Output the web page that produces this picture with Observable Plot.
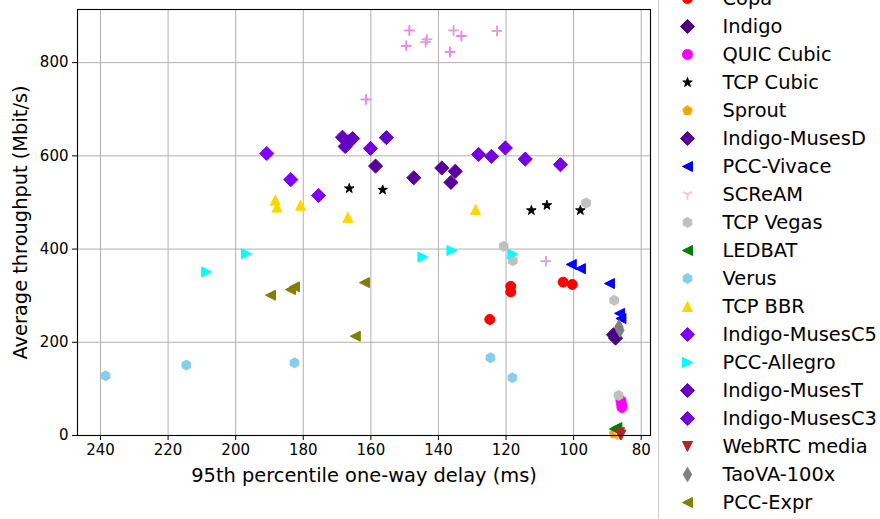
<!DOCTYPE html>
<html>
<head>
<meta charset="utf-8">
<script src="https://cdn.jsdelivr.net/npm/d3@7"></script>
<script src="https://cdn.jsdelivr.net/npm/@observablehq/plot@0.6"></script>
<style>
  html, body { margin: 0; padding: 0; background: #fff; overflow: hidden; }
  #wrap { position: relative; width: 880px; height: 519px; overflow: hidden; font-family: "DejaVu Sans", sans-serif; }
  #chart { position: absolute; left: 0; top: 0; }
  #legend { position: absolute; left: 658px; top: 0; width: 222px; height: 519px; border-left: 1px solid #cccccc; background: #fff; }
</style>
</head>
<body>
<div id="wrap"><div id="chart"></div><div id="legend"></div></div>
<script>
// ---- data (delay ms, throughput Mbit/s) ----
const schemes = ["FillP", "FillP-Sheep", "Copa", "Indigo", "QUIC Cubic", "TCP Cubic", "Sprout", "Indigo-MusesD",
  "PCC-Vivace", "SCReAM", "TCP Vegas", "LEDBAT", "Verus", "TCP BBR", "Indigo-MusesC5", "PCC-Allegro",
  "Indigo-MusesT", "Indigo-MusesC3", "WebRTC media", "TaoVA-100x", "PCC-Expr"];
const fillP = [[148.6, 869], [149.5, 836], [133.2, 857], [136.6, 823], [161.4, 721]];
const fillPSheep = [[143.4, 850], [143.8, 844], [135.5, 869], [122.7, 868], [108.2, 374]];
const copa = [[124.8, 249], [118.6, 320], [118.6, 308], [103.1, 329], [100.4, 324]];
const indigo = [[88.2, 216], [87.6, 209]];
const quicCubic = [[86.0, 75], [85.8, 67], [85.7, 60]];
const tcpCubic = [[166.4, 530], [156.5, 527], [112.5, 483], [107.9, 494], [98.0, 483]];
const sprout = [[88.0, 4], [86.5, 1]];
const musesD = [[158.6, 578], [147.3, 553], [139.0, 574], [135.0, 567], [136.3, 543]];
const pccVivace = [[100.7, 367], [98.0, 358], [89.4, 326], [86.4, 262], [86.0, 251]];
const scream = [[86.8, 2]];
const tcpVegas = [[96.3, 499], [120.7, 406], [118.0, 375], [88.0, 290], [86.7, 86]];
const ledbat = [[87.9, 14], [87.2, 17]];
const verus = [[238.5, 128], [214.6, 151], [182.6, 156], [124.6, 167], [118.1, 124]];
const tcpBbr = [[188.3, 505], [187.8, 490], [180.8, 494], [166.8, 468], [129.0, 485]];
const musesC5 = [[190.8, 605], [183.7, 549], [175.5, 515]];
const pccAllegro = [[208.6, 351], [196.8, 390], [144.6, 383], [136.0, 397], [118.0, 389]];
const musesT = [[168.4, 640], [165.4, 637], [167.6, 620], [166.6, 630], [155.4, 639]];
const musesC3 = [[160.1, 616], [128.1, 603], [124.3, 599], [120.2, 617], [114.3, 593], [103.9, 581]];
const webrtc = [[86.4, 6], [86.0, 1]];
const taova = [[86.3, 226], [86.6, 233]];
const pccExpr = [[189.7, 301], [183.8, 313], [182.6, 319], [164.6, 213], [161.9, 328]];
const seriesValues = [fillP, fillPSheep, copa, indigo, quicCubic, tcpCubic, sprout, musesD, pccVivace, scream,
  tcpVegas, ledbat, verus, tcpBbr, musesC5, pccAllegro, musesT, musesC3, webrtc, taova, pccExpr];
// legend entries that fall inside the visible part of the (top-clipped) legend box
const legendNames = schemes.slice(2);
const xTicks = [240, 220, 200, 180, 160, 140, 120, 100, 80];
const yTicks = [0, 200, 400, 600, 800];

// ---- styles ----
const colors = ["#ee82ee", "#dda0dd", "#ff0000", "#4b0082", "#ff00ff", "#000000", "#ffa500", "#58009a",
  "#0000ff", "#ffc0cb", "#c0c0c0", "#008000", "#87ceeb", "#ffd700", "#8000ff", "#00ffff",
  "#6400c4", "#7500e0", "#a52a2a", "#808080", "#808000"];

function poly(c, pts) { c.moveTo(pts[0][0], pts[0][1]); for (let i = 1; i < pts.length; i++) c.lineTo(pts[i][0], pts[i][1]); c.closePath(); }
const rad = s => Math.sqrt(s / Math.PI);
function regular(n, r, inner) {
  const pts = [];
  const m = inner ? 2 * n : n;
  for (let i = 0; i < m; i++) {
    const a = -Math.PI / 2 + i * 2 * Math.PI / m;
    const rr = inner && i % 2 ? r * inner : r;
    pts.push([rr * Math.cos(a), rr * Math.sin(a)]);
  }
  return pts;
}
function arm(c, ang, r, t) {
  const ca = Math.cos(ang), sa = Math.sin(ang);
  const px = -sa * t, py = ca * t;
  poly(c, [[px, py], [r * ca + px, r * sa + py], [r * ca - px, r * sa - py], [-px, -py]]);
}
const mk = {
  circle: { draw(c, s) { const r = rad(s); c.moveTo(r, 0); c.arc(0, 0, r, 0, 2 * Math.PI); c.closePath(); } },
  diamond: { draw(c, s) { const r = rad(s) * 1.414; poly(c, [[0, -r], [r, 0], [0, r], [-r, 0]]); } },
  thin: { draw(c, s) { const r = rad(s) * 1.414; poly(c, [[0, -r], [0.6 * r, 0], [0, r], [-0.6 * r, 0]]); } },
  up: { draw(c, s) { const r = rad(s); poly(c, [[0, -r], [r, r], [-r, r]]); } },
  down: { draw(c, s) { const r = rad(s); poly(c, [[0, r], [-r, -r], [r, -r]]); } },
  left: { draw(c, s) { const r = rad(s); poly(c, [[-r, 0], [r, -r], [r, r]]); } },
  right: { draw(c, s) { const r = rad(s); poly(c, [[r, 0], [-r, r], [-r, -r]]); } },
  star: { draw(c, s) { poly(c, regular(5, rad(s), 0.381966)); } },
  pent: { draw(c, s) { poly(c, regular(5, rad(s))); } },
  hex: { draw(c, s) { poly(c, regular(6, rad(s))); } },
  plus: { draw(c, s) { const r = rad(s), t = 0.45; poly(c, [[-t, -r], [t, -r], [t, -t], [r, -t], [r, t], [t, t], [t, r], [-t, r], [-t, t], [-r, t], [-r, -t], [-t, -t]]); } },
  wye: { draw(c, s) { const r = rad(s), t = 0.45; arm(c, Math.PI / 2, r, t); arm(c, -Math.PI / 6, r, t); arm(c, -5 * Math.PI / 6, r, t); } }
};
const symbols = [mk.plus, mk.plus, mk.circle, mk.diamond, mk.circle, mk.star, mk.pent, mk.diamond,
  mk.left, mk.wye, mk.hex, mk.left, mk.hex, mk.up, mk.diamond, mk.right,
  mk.diamond, mk.diamond, mk.down, mk.thin, mk.left];

// ---- table ----
const rows = schemes.flatMap((name, i) => seriesValues[i].map(([delay, tput]) => ({ name, delay, tput })));

const colorScale = { domain: schemes, range: colors };
const symbolScale = { domain: schemes, range: symbols };

const chart = Plot.plot({
  width: 660, height: 519,
  marginLeft: 77, marginRight: 10, marginTop: 9, marginBottom: 84,
  style: { fontFamily: "DejaVu Sans", fontSize: "15px", background: "transparent", overflow: "visible" },
  x: { domain: [77.25, 246.81], reverse: true },
  y: { domain: [0, 914] },
  color: colorScale,
  symbol: symbolScale,
  marks: [
    Plot.gridX(xTicks, { stroke: "#b0b0b0", strokeOpacity: 1, strokeWidth: 1 }),
    Plot.gridY(yTicks, { stroke: "#b0b0b0", strokeOpacity: 1, strokeWidth: 1 }),
    Plot.axisX({ ticks: xTicks, tickSize: 5, tickPadding: 4, label: null, fontSize: 15, stroke: "black" }),
    Plot.axisY({ ticks: yTicks, tickSize: 5, tickPadding: 4, label: null, fontSize: 15, stroke: "black" }),
    Plot.dot(rows, { x: "delay", y: "tput", symbol: "name", fill: "name", stroke: "name", strokeWidth: 1, r: 5 }),
    Plot.frame({ stroke: "black", strokeWidth: 1.1 }),
    Plot.text(["95th percentile one-way delay (ms)"], { frameAnchor: "bottom", dy: 40, fontSize: 19.4, fill: "black", textAnchor: "middle", lineAnchor: "middle" }),
    Plot.text(["Average throughput (Mbit/s)"], { frameAnchor: "left", dx: -57, rotate: -90, fontSize: 19.4, fill: "black", textAnchor: "middle", lineAnchor: "middle" })
  ]
});
document.getElementById("chart").appendChild(chart);

const legend = Plot.plot({
  width: 222, height: 519,
  margin: 0,
  style: { fontFamily: "DejaVu Sans", background: "transparent" },
  x: { domain: [0, 222], range: [0, 222], axis: null },
  y: { type: "point", domain: legendNames, range: [-4.3, 505], padding: 0, axis: null },
  color: colorScale,
  symbol: symbolScale,
  marks: [
    Plot.dot(legendNames, { x: () => 28, y: d => d, symbol: d => d, fill: d => d, stroke: d => d, strokeWidth: 1, r: 5 }),
    Plot.text(legendNames, { x: () => 63, y: d => d, text: d => d, textAnchor: "start", fontSize: 19.4, fill: "black" })
  ]
});
document.getElementById("legend").appendChild(legend);
</script>
</body>
</html>
